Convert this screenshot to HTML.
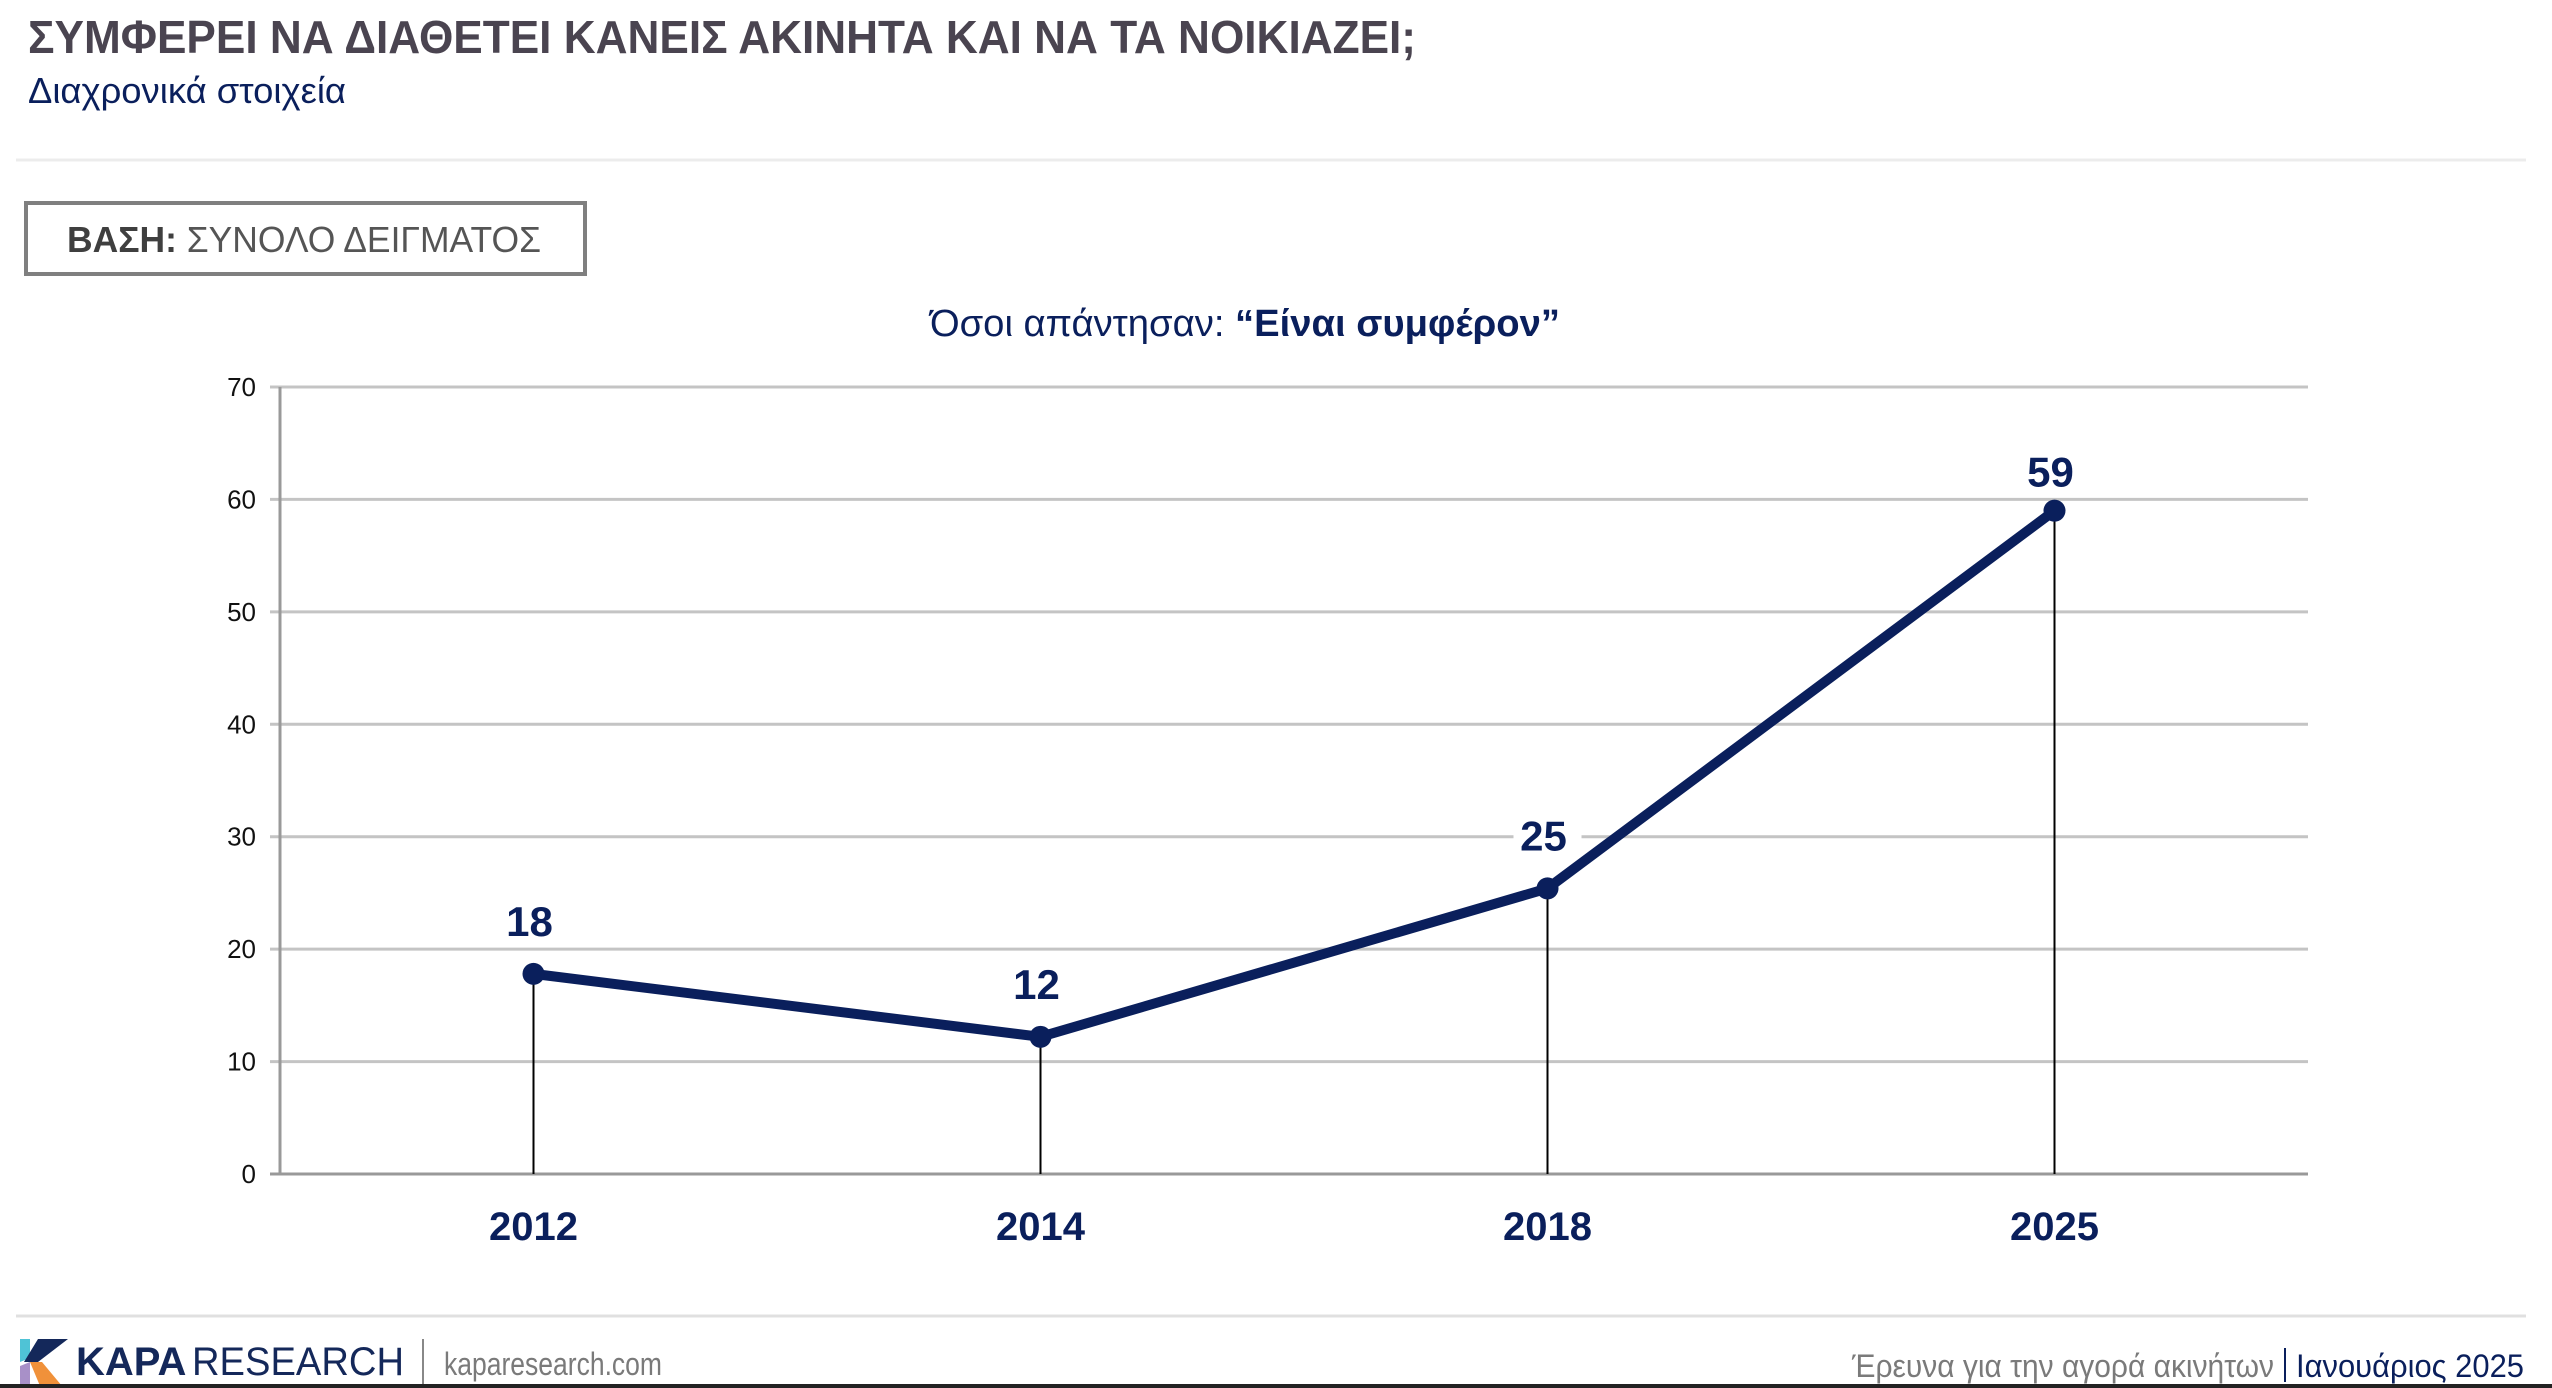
<!DOCTYPE html>
<html><head><meta charset="utf-8"><style>
html,body{margin:0;padding:0;background:#fff;}
svg{display:block;}
text{font-family:"Liberation Sans Narrow","Liberation Sans",sans-serif;}
</style></head><body>
<svg id="chart" width="2552" height="1388" viewBox="0 0 2552 1388" xmlns="http://www.w3.org/2000/svg">
<text x="28" y="53" font-size="46" font-weight="bold" fill="#4a4450" textLength="1388" lengthAdjust="spacingAndGlyphs">ΣΥΜΦΕΡΕΙ ΝΑ ΔΙΑΘΕΤΕΙ ΚΑΝΕΙΣ ΑΚΙΝΗΤΑ ΚΑΙ ΝΑ ΤΑ ΝΟΙΚΙΑΖΕΙ;</text>
<text x="28" y="103" font-size="36" fill="#0a1f5c" textLength="318" lengthAdjust="spacingAndGlyphs">Διαχρονικά στοιχεία</text>
<line x1="16" y1="160" x2="2526" y2="160" stroke="#ececec" stroke-width="3"/>
<g>
<rect x="26" y="203" width="559" height="71" fill="#fff" stroke="#7f7f7f" stroke-width="4"/>
<text x="67" y="252" font-size="36" fill="#555" textLength="474" lengthAdjust="spacingAndGlyphs"><tspan font-weight="bold" fill="#3f3f3f">ΒΑΣΗ:</tspan> ΣΥΝΟΛΟ ΔΕΙΓΜΑΤΟΣ</text>
</g>
<text x="930" y="336" font-size="38" fill="#0a1f5c" textLength="630" lengthAdjust="spacingAndGlyphs">Όσοι απάντησαν: <tspan font-weight="bold">“Είναι συμφέρον”</tspan></text>
<g id="plot"></g>
<line x1="16" y1="1316" x2="2526" y2="1316" stroke="#e0e0e0" stroke-width="3"/>
<g>
<polygon points="20,1339 30,1339 30,1358 20,1362" fill="#4fc3d6"/>
<polygon points="38,1339 68,1339 38,1362 24,1362" fill="#14285a"/>
<polygon points="20,1366 30,1362 30,1386 20,1386" fill="#a890c8"/>
<polygon points="30,1362 42,1362 62,1386 40,1386" fill="#f0913a"/>
<text x="76" y="1375" font-size="40" font-weight="bold" fill="#14285a" font-family="Liberation Sans">KAPA</text>
<text x="192" y="1375" font-size="40" fill="#14285a" font-family="Liberation Sans" textLength="212" lengthAdjust="spacingAndGlyphs">RESEARCH</text>
</g>
<line x1="423" y1="1339" x2="423" y2="1384" stroke="#888" stroke-width="2"/>
<text x="444" y="1375" font-size="32" fill="#7a7a7a" textLength="218" lengthAdjust="spacingAndGlyphs">kaparesearch.com</text>
<text x="1852" y="1377" font-size="32" fill="#7a7a7a" font-family="Liberation Serif" textLength="422" lengthAdjust="spacingAndGlyphs">Έρευνα για την αγορά ακινήτων</text>
<line x1="2285" y1="1348" x2="2285" y2="1382" stroke="#0a1f5c" stroke-width="2"/>
<text x="2296" y="1377" font-size="32" fill="#0a1f5c" font-family="Liberation Serif" textLength="228" lengthAdjust="spacingAndGlyphs">Ιανουάριος 2025</text>
<rect x="0" y="1384" width="2552" height="4" fill="#222"/>
</svg>
<script>
const categories = ["2012","2014","2018","2025"];
const values = [17.8, 12.2, 25.4, 59.0];
const valueLabels = ["18","12","25","59"];
const yTicks = [0,10,20,30,40,50,60,70];

const NS="http://www.w3.org/2000/svg";
const plot=document.getElementById('plot');
const x0=280,x1=2308,yTop=387,yBot=1174,yMax=70;
const xPos=[537,1043,1549,2056];
function xScale(i){return x0+(i+0.5)*(x1-x0)/categories.length;}
function yScale(v){return yBot-(v/yMax)*(yBot-yTop);}
function mk(tag,attrs){const e=document.createElementNS(NS,tag);for(const k in attrs)e.setAttribute(k,attrs[k]);plot.appendChild(e);return e;}

yTicks.forEach(t=>{
  const y=yScale(t);
  const g=mk('line',{x1:x0-10,y1:y,x2:x1,y2:y,stroke:t===0?'#999':'#c4c4c4','stroke-width':3});
  
  
  const l=mk('text',{x:x0-24,y:y+9,'text-anchor':'end','font-size':26,fill:'#111'});
  l.textContent=t;
  
  
});
const ax=mk('line',{x1:x0,y1:yTop,x2:x0,y2:yBot,stroke:'#999','stroke-width':3});



categories.forEach((c,i)=>{
  const x=xScale(i);
  const d=mk('line',{x1:x,y1:yScale(values[i]),x2:x,y2:yBot,stroke:'#000','stroke-width':2});
  
  
  const t=mk('text',{x:x,y:1240,'text-anchor':'middle','font-size':40,'font-weight':'bold',fill:'#0a1f5c'});
  t.textContent=c;
  
  
});
const pts=values.map((v,i)=>xScale(i)+','+yScale(v)).join(' ');
const pl=mk('polyline',{points:pts,fill:'none',stroke:'#0a1f5c','stroke-width':10,'stroke-linejoin':'round'});


values.forEach((v,i)=>{
  const x=xScale(i),y=yScale(v);
  const c=mk('circle',{cx:x,cy:y,r:11,fill:'#0a1f5c'});
  
  
  const off=i===3?24:38;
  const bg=mk('rect',{x:x-34,y:y-off-40,width:68,height:44,fill:'#fff'});
  
  
  const t=mk('text',{x:x-4,y:y-off,'text-anchor':'middle','font-size':42,'font-weight':'bold',fill:'#0a1f5c'});
  t.textContent=valueLabels[i];
  
  
});
</script>
</body></html>
